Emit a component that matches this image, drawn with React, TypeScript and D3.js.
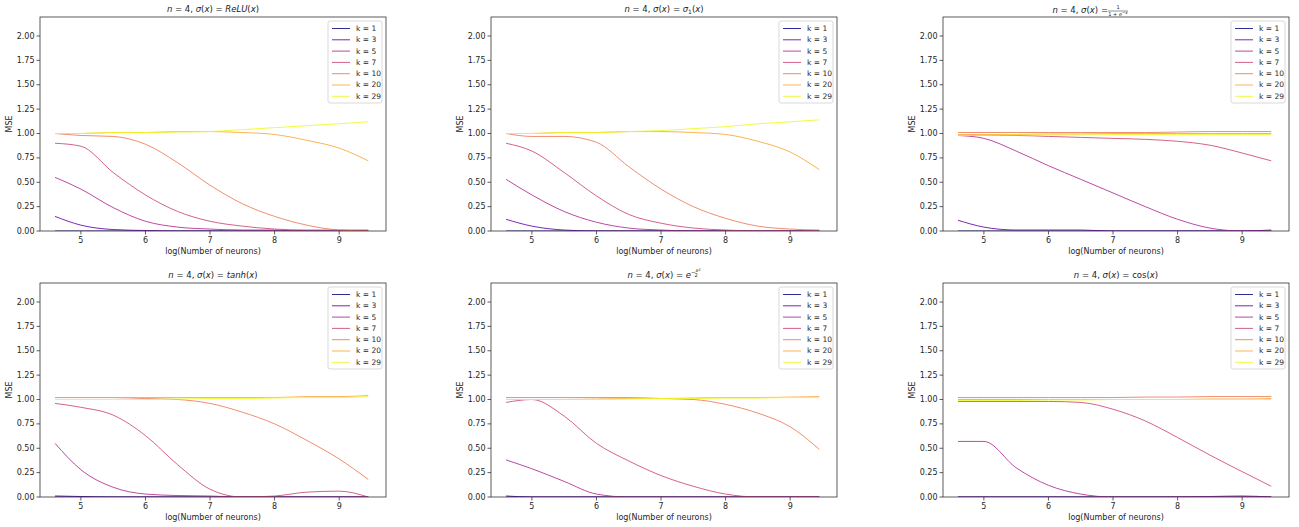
import React from 'react';
import * as d3 from 'd3';

const xs = [4.6, 5.0, 5.5, 6.0, 6.5, 7.0, 7.5, 8.0, 8.5, 9.0, 9.45];
const ks = [1, 3, 5, 7, 10, 20, 29];
const colors = ['#0d0887', '#6a00a8', '#b12a90', '#cc4778', '#ed7953', '#fca636', '#f0f921'];

const reluData = [
  [0, 0, 0, 0, 0, 0, 0, 0, 0, 0, 0],
  [0.15, 0.06, 0.015, 0.005, 0, 0, 0, 0, 0, 0, 0],
  [0.55, 0.43, 0.24, 0.1, 0.04, 0.02, 0.01, 0.01, 0, 0, 0],
  [0.9, 0.87, 0.6, 0.37, 0.2, 0.1, 0.05, 0.02, 0.01, 0.01, 0.01],
  [1.0, 0.98, 0.97, 0.89, 0.7, 0.47, 0.28, 0.15, 0.06, 0.01, 0],
  [1.0, 1.0, 1.01, 1.01, 1.02, 1.02, 1.01, 0.99, 0.93, 0.85, 0.72],
  [1.0, 1.0, 1.01, 1.01, 1.015, 1.02, 1.04, 1.06, 1.08, 1.1, 1.12],
];
const sigma1Data = [
  [0, 0, 0, 0, 0, 0, 0, 0, 0, 0, 0],
  [0.12, 0.05, 0.01, 0, 0, 0, 0, 0, 0, 0, 0],
  [0.53, 0.37, 0.2, 0.09, 0.03, 0.01, 0, 0, 0, 0, 0],
  [0.9, 0.82, 0.6, 0.36, 0.17, 0.08, 0.03, 0.01, 0, 0, 0],
  [1.0, 0.97, 0.97, 0.91, 0.66, 0.43, 0.25, 0.13, 0.05, 0.02, 0.01],
  [1.0, 1.0, 1.01, 1.01, 1.02, 1.02, 1.01, 0.99, 0.92, 0.81, 0.63],
  [1.0, 1.0, 1.01, 1.01, 1.02, 1.03, 1.05, 1.07, 1.1, 1.12, 1.14],
];
const sigmoidData = [
  [0, 0, 0, 0, 0, 0, 0, 0, 0, 0, 0],
  [0.11, 0.04, 0.01, 0.01, 0.01, 0, 0, 0, 0, 0, 0.01],
  [0.98, 0.95, 0.82, 0.67, 0.53, 0.39, 0.25, 0.12, 0.03, 0, 0],
  [0.98, 0.98, 0.98, 0.97, 0.96, 0.95, 0.94, 0.92, 0.88, 0.8, 0.72],
  [1.01, 1.01, 1.01, 1.01, 1.01, 1.01, 1.01, 1.015, 1.02, 1.02, 1.02],
  [0.99, 0.99, 0.99, 0.995, 0.995, 1.0, 1.0, 1.0, 1.0, 1.0, 1.0],
  [0.98, 0.98, 0.985, 0.985, 0.985, 0.99, 0.99, 0.99, 0.99, 0.99, 0.99],
];
const tanhData = [
  [0.01, 0.005, 0, 0, 0, 0, 0, 0, 0, 0, 0],
  [0, 0, 0, 0, 0, 0, 0, 0, 0, 0, 0],
  [0.55, 0.28, 0.1, 0.03, 0.015, 0.01, 0, 0, 0, 0, 0],
  [0.96, 0.92, 0.84, 0.63, 0.33, 0.08, 0, 0.01, 0.05, 0.06, 0],
  [1.02, 1.02, 1.02, 1.01, 1.0, 0.96, 0.87, 0.75, 0.58, 0.39, 0.18],
  [1.02, 1.02, 1.02, 1.02, 1.02, 1.02, 1.02, 1.02, 1.03, 1.03, 1.04],
  [1.0, 1.0, 1.0, 1.0, 1.005, 1.01, 1.01, 1.015, 1.02, 1.02, 1.03],
];
const gaussData = [
  [0.01, 0, 0, 0, 0, 0, 0, 0, 0, 0, 0],
  [0, 0, 0, 0, 0, 0, 0, 0, 0, 0, 0],
  [0.38, 0.29, 0.16, 0.03, 0, 0, 0, 0, 0, 0, 0],
  [0.97, 1.0, 0.83, 0.55, 0.37, 0.22, 0.11, 0.03, 0, 0, 0],
  [1.02, 1.02, 1.02, 1.02, 1.02, 1.01, 1.0, 0.95, 0.86, 0.72, 0.49],
  [1.0, 1.0, 1.0, 1.005, 1.01, 1.01, 1.015, 1.02, 1.02, 1.025, 1.03],
  [1.0, 1.0, 1.0, 1.0, 1.005, 1.01, 1.01, 1.015, 1.015, 1.02, 1.02],
];
const cosData = [
  [0, 0, 0, 0, 0, 0, 0, 0, 0, 0, 0],
  [0, 0, 0, 0, 0, 0, 0, 0, 0.005, 0.01, 0],
  [0.57, 0.57, 0.3, 0.12, 0.03, 0, 0, 0, 0, 0, 0],
  [0.98, 0.98, 0.98, 0.98, 0.97, 0.9, 0.78, 0.61, 0.43, 0.26, 0.11],
  [1.02, 1.02, 1.02, 1.02, 1.02, 1.02, 1.025, 1.025, 1.03, 1.03, 1.03],
  [1.0, 1.0, 1.0, 1.0, 1.0, 1.0, 1.0, 1.0, 1.005, 1.005, 1.01],
  [0.99, 0.99, 0.99, 0.995, 0.995, 1.0, 1.0, 1.0, 1.0, 1.0, 1.0],
];

const yTicks = [0, 0.25, 0.5, 0.75, 1.0, 1.25, 1.5, 1.75, 2.0];
const xTicks = [5, 6, 7, 8, 9];

const panels = [
  { data: reluData, title: 'relu', left: 40, top: 17 },
  { data: sigma1Data, title: 'sigma1', left: 491, top: 17 },
  { data: sigmoidData, title: 'sigmoid', left: 943, top: 17 },
  { data: tanhData, title: 'tanh', left: 40, top: 283 },
  { data: gaussData, title: 'gauss', left: 491, top: 283 },
  { data: cosData, title: 'cos', left: 943, top: 283 },
];

const W = 346;
const H = 214;
const FONT = 'DejaVu Sans, sans-serif';

function Title({ kind }: { kind: string }) {
  const it = { fontStyle: 'italic' as const };
  const pre = (
    <>
      <tspan style={it}>n</tspan> = 4, <tspan style={it}>σ</tspan>(<tspan style={it}>x</tspan>) ={' '}
    </>
  );
  if (kind === 'relu') return <>{pre}<tspan style={it}>ReLU</tspan>(<tspan style={it}>x</tspan>)</>;
  if (kind === 'sigma1') return <>{pre}<tspan style={it}>σ</tspan><tspan fontSize={6} dy={2}>1</tspan><tspan dy={-2}>(</tspan><tspan style={it}>x</tspan>)</>;
  if (kind === 'tanh') return <>{pre}<tspan style={it}>tanh</tspan>(<tspan style={it}>x</tspan>)</>;
  if (kind === 'cos') return <>{pre}cos(<tspan style={it}>x</tspan>)</>;
  if (kind === 'gauss') return <>{pre}<tspan style={it}>e</tspan><tspan fontSize={5.5} dy={-4}>−</tspan><tspan fontSize={5} dy={-2} style={it}>x²</tspan><tspan fontSize={5} dy={5} dx={-6}>2</tspan></>;
  return <>{pre}</>;
}

function Panel({ p }: { p: typeof panels[number] }) {
  const x = d3.scaleLinear().domain([4.367, 9.725]).range([0, W]);
  const y = d3.scaleLinear().domain([0, 2.195]).range([H, 0]);
  const line = d3.line<number>().x((_, i) => x(xs[i])).y(d => y(d)).curve(d3.curveMonotoneX);
  return (
    <g transform={`translate(${p.left},${p.top})`} fontFamily={FONT}>
      <defs>
        <clipPath id={`clip-${p.title}`}><rect width={W} height={H} /></clipPath>
      </defs>
      <g clipPath={`url(#clip-${p.title})`}>
        {p.data.map((s, i) => (
          <path key={i} d={line(s) ?? ''} fill="none" stroke={colors[i]} strokeWidth={1} opacity={0.85} />
        ))}
      </g>
      <rect width={W} height={H} fill="none" stroke="#333" strokeWidth={0.8} />
      {yTicks.map(t => (
        <g key={t} transform={`translate(0,${y(t)})`}>
          <line x1={-3.5} x2={0} stroke="#333" strokeWidth={0.8} />
          <text x={-5.5} dy="0.32em" textAnchor="end" fontSize={8} fill="#262626">{t.toFixed(2)}</text>
        </g>
      ))}
      {xTicks.map(t => (
        <g key={t} transform={`translate(${x(t)},${H})`}>
          <line y1={0} y2={3.5} stroke="#333" strokeWidth={0.8} />
          <text y={12} textAnchor="middle" fontSize={8} fill="#262626">{t}</text>
        </g>
      ))}
      <text x={W / 2} y={H + 23} textAnchor="middle" fontSize={8} fill="#262626">log(Number of neurons)</text>
      <text transform={`translate(-28,${H / 2}) rotate(-90)`} textAnchor="middle" fontSize={8} fill="#262626">MSE</text>
      {p.title === 'sigmoid' ? (
        <g fontSize={8.5} fill="#222">
          <text x={W / 2 - 8} y={-4} textAnchor="end"><Title kind="x" /></text>
          <text x={W / 2 + 2} y={-8} fontSize={5} textAnchor="middle">1</text>
          <line x1={W / 2 - 8} x2={W / 2 + 12} y1={-6} y2={-6} stroke="#222" strokeWidth={0.5} />
          <text x={W / 2 + 2} y={-1} fontSize={5} textAnchor="middle">1 + <tspan fontStyle="italic">e</tspan><tspan dy={-2} fontSize={4}>−x</tspan></text>
        </g>
      ) : (
        <text x={W / 2} y={-5} textAnchor="middle" fontSize={8.5} fill="#222"><Title kind={p.title} /></text>
      )}
      <g transform={`translate(${W - 58},4)`}>
        <rect width={54} height={82} fill="white" stroke="#ccc" strokeWidth={0.8} rx={2} opacity={0.9} />
        {ks.map((k, i) => (
          <g key={k} transform={`translate(4,${7.5 + i * 11.3})`}>
            <line x1={0} x2={18} stroke={colors[i]} strokeWidth={1} opacity={0.85} />
            <text x={24} dy="0.32em" fontSize={7.5} fill="#262626">k = {k}</text>
          </g>
        ))}
      </g>
    </g>
  );
}

export default function App() {
  return (
    <svg width={1299} height={527} style={{ display: 'block', position: 'absolute', left: 0, top: 0 }}>
      <rect width={1299} height={527} fill="white" />
      {panels.map(p => <Panel key={p.title} p={p} />)}
    </svg>
  );
}
